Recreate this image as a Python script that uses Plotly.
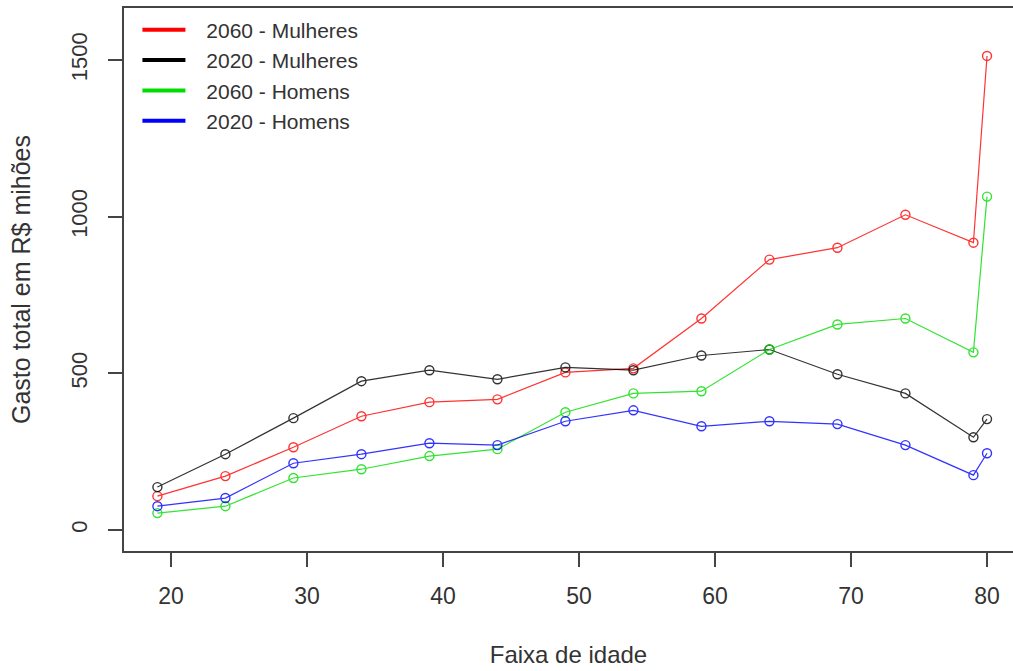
import plotly.graph_objects as go

idade = [19, 24, 29, 34, 39, 44, 49, 54, 59, 64, 69, 74, 79, 80]

mulheres_2060 = [108, 172, 264, 363, 408, 417, 503, 516, 675, 863, 901, 1006, 917, 1513]
mulheres_2020 = [137, 242, 357, 475, 510, 481, 519, 510, 557, 576, 497, 436, 296, 354]
homens_2060 = [54, 76, 166, 194, 236, 258, 376, 436, 443, 576, 656, 675, 567, 1064]
homens_2020 = [76, 102, 213, 242, 277, 271, 347, 382, 331, 347, 338, 271, 175, 245]

series_names = ["2060 - Mulheres", "2020 - Mulheres", "2060 - Homens", "2020 - Homens"]
series_values = [mulheres_2060, mulheres_2020, homens_2060, homens_2020]
series_colors = ["#ff0000", "#000000", "#00dd00", "#0000ff"]

x_ticks = [20, 30, 40, 50, 60, 70, 80]
y_ticks = [0, 500, 1000, 1500]

FONT = "Liberation Sans, Arial, sans-serif"
TXT = "#333333"
AX = "#444444"

fig = go.Figure()

for name, vals, col in zip(series_names, series_values, series_colors):
    fig.add_trace(go.Scatter(
        x=idade, y=vals, mode="lines+markers", name=name, showlegend=False,
        line=dict(color=col, width=1.2),
        marker=dict(symbol="circle-open", size=9, color=col, line=dict(width=1.4)),
        opacity=0.8,
    ))

# legend entries (thick line samples as in the original)
for name, col in zip(series_names, series_colors):
    fig.add_trace(go.Scatter(
        x=[None], y=[None], mode="lines", name="\u00a0\u00a0\u2009" + name, showlegend=True,
        line=dict(color=col, width=4),
    ))

fig.update_layout(
    width=1013, height=671,
    margin=dict(l=124, r=0, t=8, b=120),
    paper_bgcolor="white", plot_bgcolor="white",
    font=dict(family=FONT, color=TXT),
    showlegend=True,
    legend=dict(
        x=0.0151, y=0.997, xanchor="left", yanchor="top",
        bgcolor="rgba(0,0,0,0)", font=dict(size=21, color=TXT, family=FONT),
        itemwidth=43, tracegroupgap=0,
    ),
    xaxis=dict(
        range=[16.544, 81.91], tickvals=x_ticks, ticktext=[str(v) for v in x_ticks],
        showgrid=False, zeroline=False,
        showline=True, linecolor=AX, linewidth=1.5, mirror=True,
        ticks="outside", ticklen=14, tickwidth=1.5, tickcolor=AX,
        tickfont=dict(size=23, color=TXT), ticklabelstandoff=10,
        title=dict(text="Faixa de idade", font=dict(size=24, color=TXT), standoff=38),
    ),
    yaxis=dict(
        range=[-67, 1666], tickvals=y_ticks, ticktext=[str(v) for v in y_ticks],
        showgrid=False, zeroline=False,
        showline=True, linecolor=AX, linewidth=1.5, mirror=False,
        ticks="outside", ticklen=14, tickwidth=1.5, tickcolor=AX,
        tickangle=-90, tickfont=dict(size=22, color=TXT), ticklabelstandoff=12,
        title=dict(text="Gasto total em R$ mihões", font=dict(size=25, color=TXT), standoff=30),
    ),
)

fig.write_html("out.html")
